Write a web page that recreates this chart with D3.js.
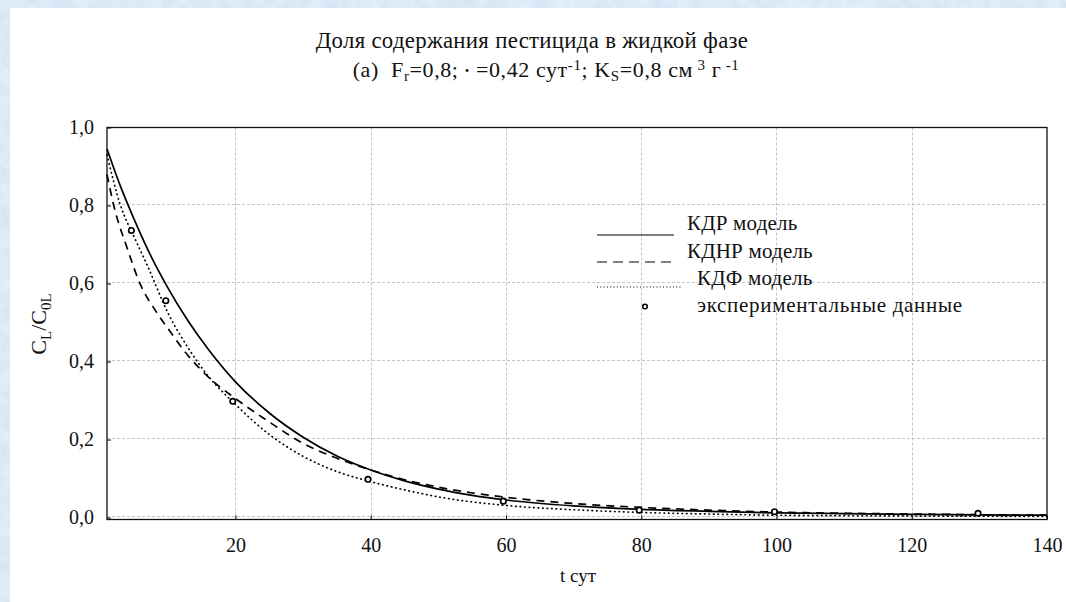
<!DOCTYPE html>
<html>
<head>
<meta charset="UTF-8">
<title>Доля содержания пестицида в жидкой фазе</title>
<script src="https://d3js.org/d3.v7.min.js"></script>
<style>
  body { margin: 0; background: #fff; }
  svg text { font-family: "Liberation Serif", Tinos, "Times New Roman", Times, serif; fill: #111; }
</style>
</head>
<body>
<svg id="chart"></svg>
<script>
// values
const kdrT   = [1, 3, 5, 7, 10, 13, 16, 20, 25, 30, 35, 40, 45, 50, 55, 60, 70, 80, 90, 100, 110, 120, 130, 140];
const kdrV   = [0.945, 0.849, 0.765, 0.688, 0.589, 0.504, 0.431, 0.348, 0.268, 0.206, 0.158, 0.122, 0.094, 0.073, 0.057, 0.045, 0.030, 0.021, 0.016, 0.012, 0.010, 0.008, 0.007, 0.006];

const kdnrT  = [1, 2, 4, 6, 8, 10, 13, 16, 20, 25, 30, 35, 40, 45, 50, 60, 70, 80, 90, 100, 120, 140];
const kdnrV  = [0.88, 0.80, 0.69, 0.595, 0.535, 0.485, 0.415, 0.36, 0.305, 0.245, 0.19, 0.152, 0.122, 0.097, 0.078, 0.052, 0.036, 0.026, 0.019, 0.014, 0.009, 0.006];

const kdfT   = [1, 3, 5, 7, 10, 13, 16, 20, 25, 30, 35, 40, 45, 50, 60, 70, 80, 90, 100, 120, 140];
const kdfV   = [0.93, 0.80, 0.72, 0.645, 0.525, 0.435, 0.362, 0.29, 0.213, 0.157, 0.118, 0.092, 0.071, 0.053, 0.031, 0.02, 0.013, 0.009, 0.006, 0.004, 0.003];

const expT   = [4.6, 9.7, 19.6, 39.6, 59.6, 79.7, 99.7, 129.8];
const expV   = [0.736, 0.556, 0.298, 0.098, 0.042, 0.019, 0.015, 0.011];

const xTicks = [20, 40, 60, 80, 100, 120, 140];
const yTicks = [0, 0.2, 0.4, 0.6, 0.8, 1.0];

const legendNames = ["КДР модель", "КДНР модель", "КДФ модель", "экспериментальные данные"];

const W = 1066, H = 602;
const serif = '"Liberation Serif", Tinos, "Times New Roman", Times, serif';
const svg = d3.select("#chart").attr("width", W).attr("height", H);

// bluish textured backdrop, white sheet on top
const defs = svg.append("defs");
const f = defs.append("filter").attr("id", "clouds").attr("x", 0).attr("y", 0).attr("width", "100%").attr("height", "100%");
f.append("feTurbulence").attr("type", "fractalNoise").attr("baseFrequency", 0.08).attr("numOctaves", 2).attr("seed", 3);
f.append("feColorMatrix").attr("values",
  "0 0 0 0 0.80  0 0 0 0 0.88  0 0 0 0 0.96  0 0 0 -1.2 1.1");
svg.append("rect").attr("width", W).attr("height", H).attr("fill", "#d3e3f3");
svg.append("rect").attr("width", W).attr("height", H).attr("fill", "#eef4fb").attr("filter", "url(#clouds)");
svg.append("rect").attr("x", 10).attr("y", 8).attr("width", W - 10).attr("height", H - 8).attr("fill", "#fff");

const x = d3.scaleLinear().domain([1, 140]).range([107, 1047]);
const y = d3.scaleLinear().domain([-0.005, 1.0]).range([519.5, 127.5]);

const fmt = d => d3.format(".1f")(d).replace(".", ",");

// grid
const grid = svg.append("g").attr("stroke", "#c4c4c4").attr("stroke-width", 1).attr("stroke-dasharray", "3,2");
grid.selectAll("line.gx").data(xTicks.slice(0, -1)).join("line")
  .attr("x1", d => Math.round(x(d)) + 0.5).attr("x2", d => Math.round(x(d)) + 0.5)
  .attr("y1", y.range()[1]).attr("y2", y.range()[0]);
grid.selectAll("line.gy").data(yTicks.slice(0, -1)).join("line")
  .attr("y1", d => Math.round(y(d)) - 1.5).attr("y2", d => Math.round(y(d)) - 1.5)
  .attr("x1", x.range()[0]).attr("x2", x.range()[1]);

// axes with inward ticks
const xAxis = svg.append("g").attr("transform", `translate(0,${y.range()[0]})`)
  .call(d3.axisBottom(x).tickValues(xTicks).tickSizeInner(-4).tickSizeOuter(0).tickPadding(18).tickFormat(d3.format("d")));
const yAxis = svg.append("g").attr("transform", `translate(${x.range()[0]},0)`)
  .call(d3.axisLeft(y).tickValues(yTicks).tickSizeInner(-4).tickSizeOuter(0).tickPadding(13).tickFormat(fmt));
[xAxis, yAxis].forEach(a => {
  a.attr("font-family", serif);
  a.select(".domain").remove();
  a.selectAll(".tick line").attr("stroke", "#000");
  a.selectAll(".tick text").attr("font-size", 20).attr("fill", "#111");
});

// frame
svg.append("rect")
  .attr("x", x.range()[0]).attr("y", y.range()[1])
  .attr("width", x.range()[1] - x.range()[0]).attr("height", y.range()[0] - y.range()[1])
  .attr("fill", "none").attr("stroke", "#111").attr("stroke-width", 1.3);

// curves
const line = d3.line().x(d => x(d[0])).y(d => y(d[1])).curve(d3.curveMonotoneX);
const plot = svg.append("g");
function drawSeries(ts, vs, dash, cap) {
  plot.append("path")
    .datum(ts.map((t, i) => [t, vs[i]]))
    .attr("d", line)
    .attr("fill", "none")
    .attr("stroke", "#000")
    .attr("stroke-width", 1.7)
    .attr("stroke-linecap", cap)
    .attr("stroke-dasharray", dash);
}
drawSeries(kdrT, kdrV, null, "butt");
drawSeries(kdnrT, kdnrV, "8,6", "butt");
drawSeries(kdfT, kdfV, "0.5,4", "round");

plot.selectAll("circle.exp").data(expT.map((t, i) => [t, expV[i]])).join("circle")
  .attr("cx", d => x(d[0])).attr("cy", d => y(d[1])).attr("r", 2.7)
  .attr("fill", "#fff").attr("stroke", "#000").attr("stroke-width", 1.7);

// legend
const lg = svg.append("g");
lg.append("line").attr("x1", 597).attr("x2", 674).attr("y1", 235).attr("y2", 235).attr("stroke", "#000").attr("stroke-width", 1.2);
lg.append("line").attr("x1", 597).attr("x2", 672).attr("y1", 262).attr("y2", 262).attr("stroke", "#000").attr("stroke-width", 1.2).attr("stroke-dasharray", "10,6");
lg.append("line").attr("x1", 597).attr("x2", 681).attr("y1", 287).attr("y2", 287).attr("stroke", "#000").attr("stroke-width", 1.2).attr("stroke-dasharray", "1,2.3");
lg.append("circle").attr("cx", 645).attr("cy", 306.5).attr("r", 2.3).attr("fill", "#fff").attr("stroke", "#000").attr("stroke-width", 1.5);
const legendPos = [[687, 230], [687, 258], [697, 285], [697, 312]];
lg.selectAll("text").data(legendNames).join("text")
  .attr("x", (d, i) => legendPos[i][0]).attr("y", (d, i) => legendPos[i][1])
  .attr("font-size", 21).attr("letter-spacing", (d, i) => i === 3 ? 0.7 : 0.2).text(d => d);

// titles
svg.append("text").attr("x", 532).attr("y", 48).attr("text-anchor", "middle").attr("font-size", 22.8)
  .attr("letter-spacing", 0.3)
  .text("Доля содержания пестицида в жидкой фазе");

const sub = svg.append("text").attr("x", 546).attr("y", 77).attr("text-anchor", "middle").attr("font-size", 22)
  .attr("letter-spacing", 0.6).attr("xml:space", "preserve");
function part(t, kind) {
  const s = sub.append("tspan").text(t);
  if (kind === "sub") s.attr("dy", 4).attr("font-size", 15);
  if (kind === "sup") s.attr("dy", -7).attr("font-size", 15);
  if (kind === "back-sub") s.attr("dy", -4);
  if (kind === "back-sup") s.attr("dy", 7);
  if (kind === "dot") s.attr("font-size", 13).attr("dy", -2);
  if (kind === "back-dot") s.attr("dy", 2);
  return s;
}
part("(a)  F"); part("r", "sub"); part("=0,8; ", "back-sub");
part("•", "dot"); part(" =0,42 сут", "back-dot"); part("-1", "sup");
part("; K", "back-sup"); part("S", "sub"); part("=0,8 см", "back-sub");
part(" 3", "sup"); part(" г", "back-sup"); part(" -1", "sup");

// axis titles
const yl = svg.append("text").attr("transform", "translate(46,324) rotate(-90)").attr("text-anchor", "middle").attr("font-size", 22);
yl.append("tspan").text("C");
yl.append("tspan").text("L").attr("font-size", 15).attr("dy", 5);
yl.append("tspan").text("/C").attr("dy", -5);
yl.append("tspan").text("0L").attr("font-size", 15).attr("dy", 5);

svg.append("text").attr("x", 578).attr("y", 582).attr("text-anchor", "middle").attr("font-size", 19).text("t сут");
</script>
</body>
</html>
